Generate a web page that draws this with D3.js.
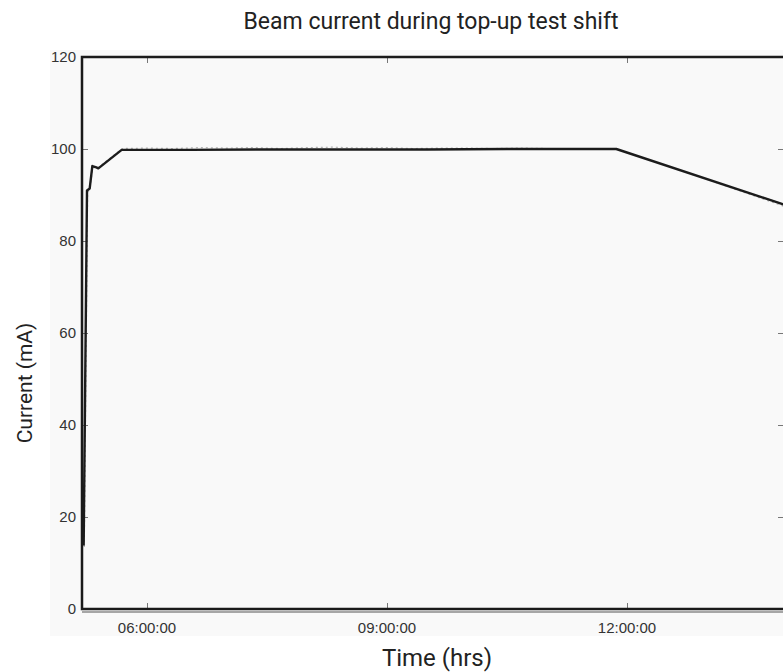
<!DOCTYPE html>
<html>
<head>
<meta charset="utf-8">
<script src="https://cdn.jsdelivr.net/npm/d3@7"></script>
<style>
  body { margin: 0; background: #fff; }
  svg { display: block; }
</style>
</head>
<body>
<div class="chart"></div>
<script>
// beam current, black trace (time of day, mA)
const mainTimes = ["05:12:30", "05:15:00", "05:16:30", "05:17:00", "05:19:00", "05:22:00", "05:23:30",
  "05:41:00", "06:30:00", "07:30:00", "08:30:00", "09:30:00", "10:30:00", "11:00:00", "11:52:00", "14:00:00"]
const mainValues = [13.8, 91.0, 91.3, 91.4, 96.3, 96.0, 95.8,
  99.8, 99.8, 99.9, 99.9, 99.9, 100.0, 100.0, 100.0, 87.7]

// raw readback, grey trace
const rawTimes = ["05:13:00", "05:15:30", "05:17:00", "05:19:30", "05:23:00", "05:41:30",
  "06:00:00", "06:20:00", "06:40:00", "07:00:00", "07:20:00", "07:40:00", "08:00:00", "08:20:00",
  "08:40:00", "09:00:00", "09:20:00", "09:40:00", "10:00:00", "10:20:00", "10:40:00", "11:00:00",
  "11:52:00", "13:00:00", "14:00:00"]
const rawValues = [13.5, 90.6, 91.2, 96.0, 95.9, 100.1,
  100.2, 100.1, 100.3, 100.2, 100.3, 100.1, 100.3, 100.4,
  100.2, 100.3, 100.1, 100.2, 100.2, 100.1, 100.2, 100.1,
  100.0, 93.4, 87.3]

const yTicks = [0, 20, 40, 60, 80, 100, 120]
const xTicks = ["06:00:00", "09:00:00", "12:00:00"]
const xStart = "05:11:15"
const xEnd = "13:57:45"

const parse = s => d3.utcParse("%Y-%m-%d %H:%M:%S")("2010-01-01 " + s)
const fmt = d3.utcFormat("%H:%M:%S")

const width = 783, height = 672
const margin = {top: 57, right: -1, bottom: 63, left: 82}
const tickFont = "'Liberation Sans', Arial, sans-serif"
const titleFont = "Roboto, 'Noto Sans', sans-serif"

const svg = d3.select(".chart").append("svg")
  .attr("width", width)
  .attr("height", height)

// figure panel
svg.append("rect")
  .attr("x", 50).attr("y", 50)
  .attr("width", width - 50).attr("height", 586)
  .attr("fill", "#f9f9f9")

const x = d3.scaleUtc()
  .domain([parse(xStart), parse(xEnd)])
  .range([margin.left, width - margin.right])

const y = d3.scaleLinear()
  .domain([0, 120])
  .range([height - margin.bottom, margin.top])

const x0 = margin.left, x1 = width - margin.right
const y0 = height - margin.bottom, y1 = margin.top

// ticks (inward, grey)
const tickCol = "#777"
svg.append("g")
  .attr("transform", `translate(${x0},0)`)
  .call(d3.axisRight(y).tickValues(yTicks).tickSize(6).tickFormat(""))
  .call(g => g.select(".domain").remove())
  .call(g => g.selectAll("line").attr("stroke", tickCol))
svg.append("g")
  .attr("transform", `translate(${x1},0)`)
  .call(d3.axisLeft(y).tickValues(yTicks).tickSize(6).tickFormat(""))
  .call(g => g.select(".domain").remove())
  .call(g => g.selectAll("line").attr("stroke", tickCol))
svg.append("g")
  .attr("transform", `translate(0,${y0})`)
  .call(d3.axisTop(x).tickValues(xTicks.map(parse)).tickSize(6).tickFormat(""))
  .call(g => g.select(".domain").remove())
  .call(g => g.selectAll("line").attr("stroke", tickCol))
svg.append("g")
  .attr("transform", `translate(0,${y1})`)
  .call(d3.axisBottom(x).tickValues(xTicks.map(parse)).tickSize(6).tickFormat(""))
  .call(g => g.select(".domain").remove())
  .call(g => g.selectAll("line").attr("stroke", tickCol))

// tick labels
svg.append("g").selectAll("text")
  .data(yTicks)
  .join("text")
  .attr("x", x0 - 6)
  .attr("y", d => y(d))
  .attr("dy", "0.35em")
  .attr("text-anchor", "end")
  .attr("font-family", tickFont)
  .attr("font-size", 15)
  .attr("fill", "#333")
  .text(d => d)

svg.append("g").selectAll("text")
  .data(xTicks.map(parse))
  .join("text")
  .attr("x", d => x(d))
  .attr("y", y0 + 24)
  .attr("text-anchor", "middle")
  .attr("font-family", tickFont)
  .attr("font-size", 15)
  .attr("fill", "#333")
  .text(d => fmt(d))

// traces
const line = d3.line()
  .x(d => x(d[0]))
  .y(d => y(d[1]))

svg.append("clipPath").attr("id", "plot")
  .append("rect").attr("x", x0).attr("y", y1).attr("width", x1 - x0 + 4).attr("height", y0 - y1)

svg.append("path")
  .datum(rawTimes.map((t, i) => [parse(t), rawValues[i]]))
  .attr("clip-path", "url(#plot)")
  .attr("fill", "none")
  .attr("stroke", "#b4b4b4")
  .attr("stroke-width", 1.2)
  .attr("stroke-dasharray", "2,3")
  .attr("d", line)

svg.append("path")
  .datum(mainTimes.map((t, i) => [parse(t), mainValues[i]]))
  .attr("clip-path", "url(#plot)")
  .attr("fill", "none")
  .attr("stroke", "#1c1c1c")
  .attr("stroke-width", 2.4)
  .attr("stroke-linejoin", "round")
  .attr("d", line)

// axes frame
svg.append("line")
  .attr("x1", x0).attr("x2", x1).attr("y1", y0 + 3).attr("y2", y0 + 3)
  .attr("stroke", "#555").attr("stroke-width", 1.2)
svg.append("path")
  .attr("d", `M${x1},${y1}H${x0}V${y0}H${x1}`)
  .attr("fill", "none")
  .attr("stroke", "#1a1a1a")
  .attr("stroke-width", 2.5)

// titles
svg.append("text")
  .attr("x", 431).attr("y", 29)
  .attr("text-anchor", "middle")
  .attr("font-family", titleFont)
  .attr("font-size", 23)
  .attr("fill", "#222")
  .text("Beam current during top-up test shift")

svg.append("text")
  .attr("x", 437).attr("y", 666)
  .attr("text-anchor", "middle")
  .attr("font-family", titleFont)
  .attr("font-size", 24)
  .attr("fill", "#222")
  .text("Time (hrs)")

svg.append("text")
  .attr("transform", "translate(32,383) rotate(-90)")
  .attr("text-anchor", "middle")
  .attr("font-family", titleFont)
  .attr("font-size", 21)
  .attr("fill", "#222")
  .text("Current (mA)")
</script>
</body>
</html>
